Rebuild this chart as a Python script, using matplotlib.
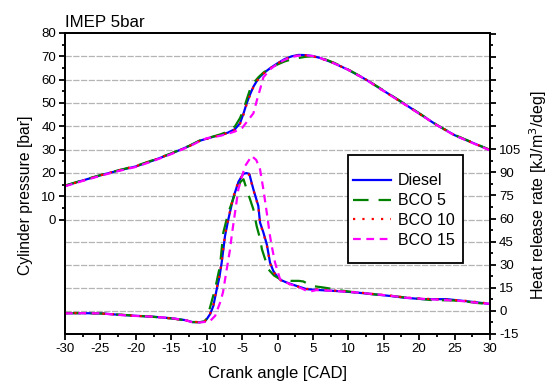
import matplotlib
matplotlib.use("Agg")
import matplotlib.pyplot as plt
from matplotlib.ticker import FixedLocator, FixedFormatter
from matplotlib.patches import Rectangle

plt.rcParams['font.family'] = ['Liberation Sans', 'DejaVu Sans']

# ---------------- data ----------------
series_names = ["Diesel", "BCO 5", "BCO 10", "BCO 15"]

# Cylinder pressure [bar]
p_diesel_x = [-30, -27.5, -25, -22.5, -20, -17.5, -15, -12.5, -11, -10, -9, -8, -7, -6, -5.3, -4.8, -4.35, -3.9, -3.4, -2.7, -2, -1, 0, 1, 2, 3, 4, 5, 6, 7, 8, 10, 12.5, 15, 17.5, 20, 22.5, 25, 27.5, 30]
p_diesel_y = [14.5, 16.8, 19.0, 21.0, 22.8, 25.4, 28.3, 31.5, 33.8, 34.7, 35.6, 36.3, 37.3, 38.8, 41.3, 45.5, 49.9, 53.5, 57.0, 60.5, 62.7, 65.0, 67.0, 68.8, 70.0, 70.6, 70.5, 70.1, 69.3, 68.2, 67.0, 64.2, 60.0, 55.2, 50.4, 45.5, 40.5, 36.2, 33.0, 29.8]

p_bco5_x = [-30, -27.5, -25, -22.5, -20, -17.5, -15, -12.5, -11, -10, -9, -8, -7, -6, -5.3, -4.8, -4.35, -3.9, -3.4, -2.7, -2, -1, 0, 1, 2, 3, 4, 5, 6, 7, 8, 10, 12.5, 15, 17.5, 20, 22.5, 25, 27.5, 30]
p_bco5_y = [14.6, 16.9, 19.1, 21.1, 23.0, 25.6, 28.4, 31.6, 33.9, 34.8, 35.7, 36.6, 37.8, 40.0, 43.5, 47.0, 51.5, 55.6, 58.5, 61.0, 63.0, 65.0, 66.5, 67.8, 68.7, 69.3, 69.8, 70.0, 69.5, 68.4, 67.2, 64.3, 60.1, 55.3, 50.5, 45.6, 40.6, 36.3, 33.1, 29.9]

p_bco10_x = [-30, -27.5, -25, -22.5, -20, -17.5, -15, -12.5, -11, -10, -9, -8, -7, -6, -5.3, -4.8, -4.35, -3.9, -3.4, -2.7, -2, -1, 0, 1, 2, 3, 4, 5, 6, 7, 8, 10, 12.5, 15, 17.5, 20, 22.5, 25, 27.5, 30]
p_bco10_y = [14.5, 16.7, 19.0, 21.1, 22.9, 25.5, 28.3, 31.4, 33.7, 34.6, 35.5, 36.2, 37.2, 38.6, 41.0, 45.0, 49.5, 53.2, 56.8, 60.3, 62.6, 64.9, 66.9, 68.7, 69.9, 70.4, 70.4, 70.0, 69.2, 68.1, 67.0, 64.2, 60.0, 55.1, 50.3, 45.4, 40.5, 36.2, 33.0, 29.8]

p_bco15_x = [-30, -27.5, -25, -22.5, -20, -17.5, -15, -12.5, -11, -10, -9, -8, -7, -6, -5, -4.3, -3.4, -2.9, -2.4, -2, -1, 0, 1, 2, 3, 4, 5, 6, 7, 8, 10, 12.5, 15, 17.5, 20, 22.5, 25, 27.5, 30]
p_bco15_y = [14.3, 16.6, 18.8, 20.8, 22.6, 25.2, 28.1, 31.3, 33.6, 34.9, 35.4, 36.0, 36.8, 37.8, 39.3, 42.0, 45.6, 51.3, 56.5, 61.0, 64.5, 66.8, 68.5, 69.7, 70.3, 70.4, 70.1, 69.3, 68.2, 67.0, 64.2, 60.0, 55.1, 50.3, 45.4, 40.5, 36.1, 32.9, 29.7]

# Heat release rate [kJ/m3/deg]
h_diesel_x = [-30, -27.5, -25, -22.5, -20, -17.5, -15, -13, -12, -11, -10.3, -10, -9.5, -9.06, -8.58, -8.2, -7.88, -7.41, -6.94, -6.24, -5.5, -4.83, -4.4, -3.98, -3.7, -3.41, -2.71, -2.47, -2.0, -1.5, -1.06, -0.6, -0.12, 0.5, 1.3, 2.5, 4.1, 6, 7.9, 9, 11.2, 13.5, 15.9, 18, 20.6, 23.9, 26.2, 28, 30]
h_diesel_y = [-1.5, -1.5, -1.6, -2.5, -3.2, -3.8, -4.8, -6.0, -7.3, -7.3, -7.0, -5.4, -2.0, 3.2, 14.1, 22.0, 31.4, 48.7, 59.5, 73.6, 84.0, 89.0, 89.5, 89.0, 84.0, 79.0, 68.2, 57.4, 51.0, 43.0, 31.4, 26.0, 22.7, 20.0, 18.4, 16.5, 14.1, 13.5, 13.0, 12.7, 11.9, 10.8, 9.7, 8.5, 7.6, 7.6, 6.5, 5.6, 4.5]

h_bco5_x = [-30, -27.5, -25, -22.5, -20, -17.5, -15, -13, -12, -11, -10.3, -10, -9.53, -8.82, -8.12, -7.65, -6.94, -5.76, -5.2, -4.8, -4.35, -3.41, -2.94, -2.47, -2.2, -1.29, -0.5, 0.35, 1.77, 3.0, 3.65, 4.83, 6.47, 7.4, 9, 11, 13.5, 16, 18, 20.6, 22, 24, 26, 28, 30]
h_bco5_y = [-1.4, -1.5, -1.7, -2.4, -3.1, -3.9, -4.9, -6.1, -7.2, -7.4, -6.8, -5.0, 2.2, 14.1, 29.2, 50.9, 63.9, 79.0, 84.0, 85.5, 79.0, 66.0, 55.0, 47.0, 40.0, 27.0, 23.0, 20.6, 19.5, 19.5, 19.1, 16.2, 15.2, 14.5, 13.2, 12.0, 10.8, 9.8, 8.7, 7.6, 6.9, 6.9, 6.5, 5.2, 4.4]

h_bco10_x = [-30, -27.5, -25, -22.5, -20, -17.5, -15, -13, -12, -11, -10.3, -10, -9.5, -9.06, -8.58, -8.2, -7.88, -7.41, -6.94, -6.24, -5.5, -4.83, -4.4, -3.98, -3.7, -3.41, -2.71, -2.47, -2.0, -1.5, -1.06, -0.6, -0.12, 0.5, 1.3, 2.5, 4.1, 6, 7.9, 9, 11.2, 13.5, 15.9, 18, 20.6, 23.9, 26.2, 28, 30]
h_bco10_y = [-1.5, -1.4, -1.7, -2.4, -3.3, -3.7, -4.9, -6.1, -7.2, -7.2, -7.0, -5.2, -1.6, 3.8, 14.8, 22.8, 32.0, 49.5, 60.0, 74.0, 84.5, 88.5, 89.0, 88.5, 83.5, 78.5, 67.8, 57.0, 50.5, 42.5, 31.0, 25.6, 22.3, 19.7, 18.0, 16.2, 14.3, 13.8, 13.2, 12.9, 12.1, 11.0, 9.9, 8.7, 7.9, 7.3, 6.7, 5.8, 4.7]

h_bco15_x = [-30, -27.5, -25, -22.5, -20, -17.5, -15, -13, -12, -11, -10.3, -9.5, -8.8, -8.1, -7.7, -7.4, -6.7, -6.47, -6.0, -5.53, -4.59, -3.65, -3.0, -2.47, -2.0, -1.52, -1.06, -0.82, -0.35, 0.35, 1.77, 3.0, 4.0, 4.5, 5.5, 8, 11, 13.5, 16, 18, 20.6, 23, 26, 28, 30]
h_bco15_y = [-1.6, -1.5, -1.6, -2.6, -3.3, -3.8, -4.7, -6.1, -7.4, -7.5, -7.2, -6.5, -3.2, 5.5, 12.0, 20.6, 40.0, 48.7, 63.9, 79.0, 94.0, 100.6, 98.0, 92.0, 79.0, 63.9, 48.7, 42.2, 31.4, 20.6, 17.3, 15.5, 13.3, 12.5, 13.5, 13.0, 12.0, 10.9, 9.8, 8.6, 7.8, 7.2, 6.4, 5.3, 4.6]

x_ticks = [-30, -25, -20, -15, -10, -5, 0, 5, 10, 15, 20, 25, 30]
p_ticks = [0, 10, 20, 30, 40, 50, 60, 70, 80]
h_ticks = [-15, 0, 15, 30, 45, 60, 75, 90, 105, 120, 135, 150, 165, 180]
h_labels = ["-15", "0", "15", "30", "45", "60", "75", "90", "105", "", "", "", "", ""]

# ---------------- styles ----------------
colors = ["#0000FF", "#008000", "#FF0000", "#FF00FF"]
styles = ["-", (0, (7, 4.5)), (0, (1, 3.2)), (0, (3.5, 2.5))]

fig = plt.figure(figsize=(5.51, 3.83), dpi=100)
ax = fig.add_axes([0.118, 0.128, 0.7713, 0.7859])
ax2 = ax.twinx()

P_ = [(p_diesel_x, p_diesel_y), (p_bco5_x, p_bco5_y), (p_bco10_x, p_bco10_y), (p_bco15_x, p_bco15_y)]
H_ = [(h_diesel_x, h_diesel_y), (h_bco5_x, h_bco5_y), (h_bco10_x, h_bco10_y), (h_bco15_x, h_bco15_y)]

# grid lines
grid_kw = dict(color="#b4b4b4", lw=0.9, ls=(0, (5, 1.2)), zorder=0)
for g in [0, 10, 20, 30, 40, 50, 60, 70]:
    ax.axhline(g, **grid_kw)
for g in [0, 15, 30, 45]:
    ax2.axhline(g, **grid_kw)

handles = []
for (px, py), (hx, hy), c, s, name in zip(P_, H_, colors, styles, series_names):
    ax.plot(px, py, color=c, ls=s, lw=1.6)
    h, = ax2.plot(hx, hy, color=c, ls=s, lw=1.6, label=name)
    handles.append(h)

ax.set_xlim(-30, 30)
ax.set_ylim(-49, 80)
ax2.set_ylim(-15, 180.5)

ax.set_xticks(x_ticks)
ax.set_xticklabels([str(t) for t in x_ticks])
ax.xaxis.set_minor_locator(FixedLocator([t + 2.5 for t in x_ticks[:-1]]))
ax.yaxis.set_major_locator(FixedLocator(p_ticks))
ax.yaxis.set_major_formatter(FixedFormatter([str(t) for t in p_ticks]))
ax.yaxis.set_minor_locator(FixedLocator([t + 5 for t in p_ticks[:-1]]))
ax2.yaxis.set_major_locator(FixedLocator(h_ticks))
ax2.yaxis.set_major_formatter(FixedFormatter(h_labels))
ax2.yaxis.set_minor_locator(FixedLocator([t + 7.5 for t in h_ticks[:-1]]))

for a in (ax, ax2):
    for sp in a.spines.values():
        sp.set_linewidth(1.3)
    a.tick_params(which="major", direction="out", length=4.5, width=1.3, labelsize=9.5, pad=2)
    a.tick_params(which="minor", direction="out", length=2.5, width=1.3)

ax.set_xlabel("Crank angle [CAD]", fontsize=12, labelpad=8)
ax.set_ylabel("Cylinder pressure [bar]", fontsize=11.3)
ax2.set_ylabel("Heat release rate [kJ/m$^3$/deg]", fontsize=11.5)
ax.yaxis.set_label_coords(-0.076, 0.46)
ax2.yaxis.set_label_coords(1.087, 0.46)

fig.text(0.118, 0.93, "IMEP 5bar", fontsize=12.2, ha="left", va="baseline")

# legend box
ax2.add_patch(Rectangle((0.665, 0.237), 0.271, 0.358, transform=ax2.transAxes,
                        facecolor="white", edgecolor="black", lw=1.3, zorder=6))
leg = ax2.legend(handles=handles, loc="center left", bbox_to_anchor=(0.678, 0.41),
                 fontsize=11.5, frameon=False, handlelength=2.4,
                 borderpad=0, labelspacing=0.31, handletextpad=0.4, borderaxespad=0)
leg.set_zorder(7)

fig.savefig("out.png", dpi=100)
